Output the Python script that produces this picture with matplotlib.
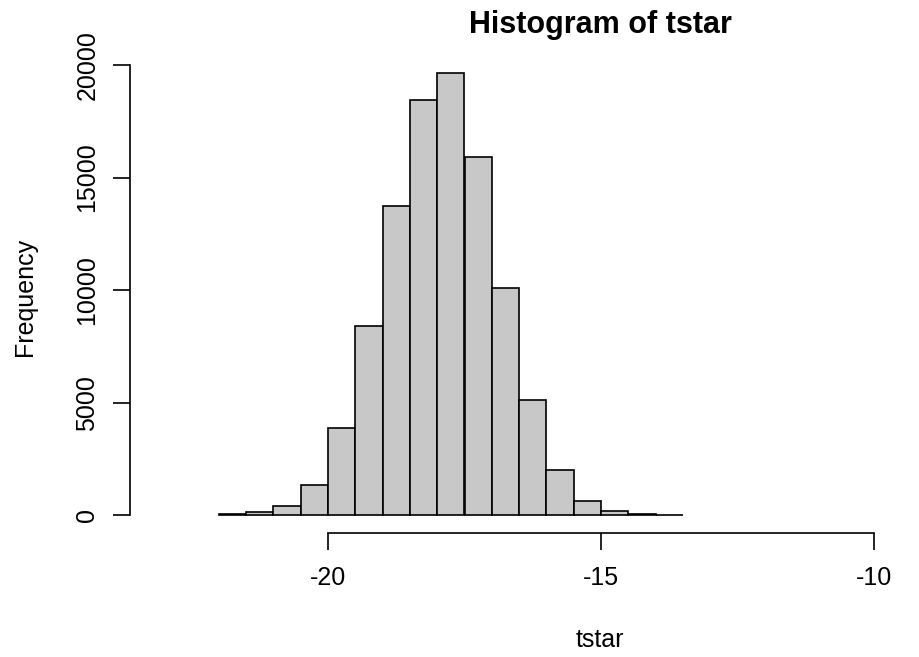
import numpy as np
import matplotlib.pyplot as plt

# Histogram counts (bins of width 0.5)
bin_edges = np.arange(-22.0, -13.49, 0.5)
counts = [50, 130, 400, 1360, 3890, 8410, 13720, 18450, 19660,
          15920, 10100, 5130, 2010, 620, 180, 60, 20]
x_ticks = [-20, -15, -10]
y_ticks = [0, 5000, 10000, 15000, 20000]

plt.rcParams['font.family'] = ['Liberation Sans', 'DejaVu Sans']

W, H = 920, 657
fig = plt.figure(figsize=(W / 100, H / 100), dpi=100)
# plot region as in R (right side of the original image is cropped)
left, right, top, bottom = 130, 1070, 55, 533
ax = fig.add_axes([left / W, 1 - bottom / H, (right - left) / W, (bottom - top) / H])

ax.bar(bin_edges[:-1], counts, width=0.5, align='edge',
       color='#c8c8c8', edgecolor='black', linewidth=1.2)

px_per_unit = 54.6
x0 = -20 - (328 - left) / px_per_unit
ax.set_xlim(x0, x0 + (right - left) / px_per_unit)
ax.set_ylim(-786, 20446)

for s in ['top', 'right']:
    ax.spines[s].set_visible(False)
ax.spines['left'].set_bounds(0, 20000)
ax.spines['bottom'].set_bounds(-20, -10)
for s in ['left', 'bottom']:
    ax.spines[s].set_linewidth(1.2)

ax.set_xticks(x_ticks)
ax.set_xticklabels([str(v) for v in x_ticks])
ax.set_yticks(y_ticks)
ax.set_yticklabels([str(v) for v in y_ticks], rotation=90, va='center')
ax.tick_params(axis='both', length=12, width=1.2, labelsize=18)
ax.tick_params(axis='x', pad=12)
ax.tick_params(axis='y', pad=10)

fig.text(600 / W, 1 - 25 / H, 'Histogram of tstar', ha='center', va='center',
         fontsize=22, fontweight='bold')
fig.text(600 / W, 1 - 640 / H, 'tstar', ha='center', va='center', fontsize=18)
fig.text(25 / W, 1 - 297 / H, 'Frequency', ha='center', va='center',
         rotation=90, fontsize=18)

fig.savefig('out.png', dpi=100)
